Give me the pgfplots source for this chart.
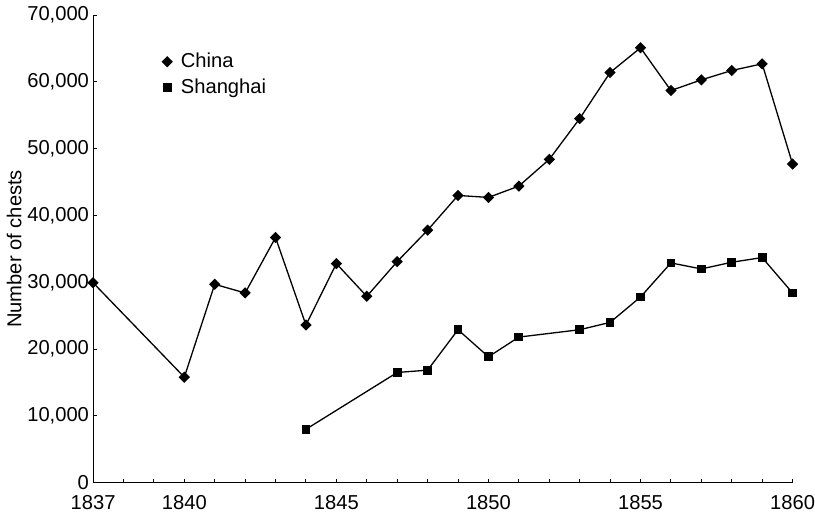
\documentclass[border=0pt]{standalone}
\usepackage{fontspec}
\setmainfont{Liberation Sans}
\usepackage{pgfplots}
\pgfplotsset{compat=1.18}

\begin{document}
\fontsize{10}{12}\selectfont
\begin{tikzpicture}
\begin{axis}[
  scale only axis,
  width=347pt, height=232pt,
  xmin=1837, xmax=1860,
  ymin=0, ymax=70000,
  axis lines=left,
  axis line style={-, line width=0.5pt},
  clip=false,
  xtick={1837,1840,1845,1850,1855,1860},
  minor xtick={1838,1839,1841,1842,1843,1844,1846,1847,1848,1849,1851,1852,1853,1854,1856,1857,1858,1859},
  ytick={0,10000,...,70000},
  tick align=inside,
  major tick length=2pt, minor tick length=2pt,
  tick style={black, line width=0.5pt},
  /pgf/number format/assume math mode=true,
  xticklabel style={/pgf/number format/1000 sep={}, yshift=-3pt, inner xsep=0pt},
  yticklabel style={/pgf/number format/1000 sep={,}, xshift=1.5pt},
  scaled y ticks=false,
  ylabel={Number of chests},
  ylabel style={yshift=-4pt},
  legend style={draw=none, fill=none, at={(0.09,0.935)}, anchor=north west,
    font=\fontsize{10}{12}\selectfont, row sep=1pt,
    nodes={inner sep=1.5pt}},
  legend cell align=left,
  legend image code/.code={\path (0pt,0pt) (5pt,0pt);\draw[#1, draw=none] plot coordinates {(0pt,0pt)};},
]
\addplot[black, line width=0.65pt, mark=square*, mark size=1.65pt, mark options={rotate=45}] coordinates {
(1837,29940) (1840,15800) (1841,29700) (1842,28400) (1843,36700) (1844,23600)
(1845,32800) (1846,27900) (1847,33100) (1848,37800) (1849,43000) (1850,42700)
(1851,44400) (1852,48400) (1853,54500) (1854,61400) (1855,65100) (1856,58700)
(1857,60300) (1858,61700) (1859,62700) (1860,47700)
};
\addlegendentry{China}
\addplot[black, line width=0.65pt, mark=square*, mark size=1.85pt] coordinates {
(1844,8000) (1847,16500) (1848,16850) (1849,22900) (1850,18850) (1851,21800)
(1853,22900) (1854,24000) (1855,27800) (1856,32900) (1857,32000) (1858,33000)
(1859,33700) (1860,28400)
};
\addlegendentry{Shanghai}
\end{axis}
\end{tikzpicture}
\end{document}
